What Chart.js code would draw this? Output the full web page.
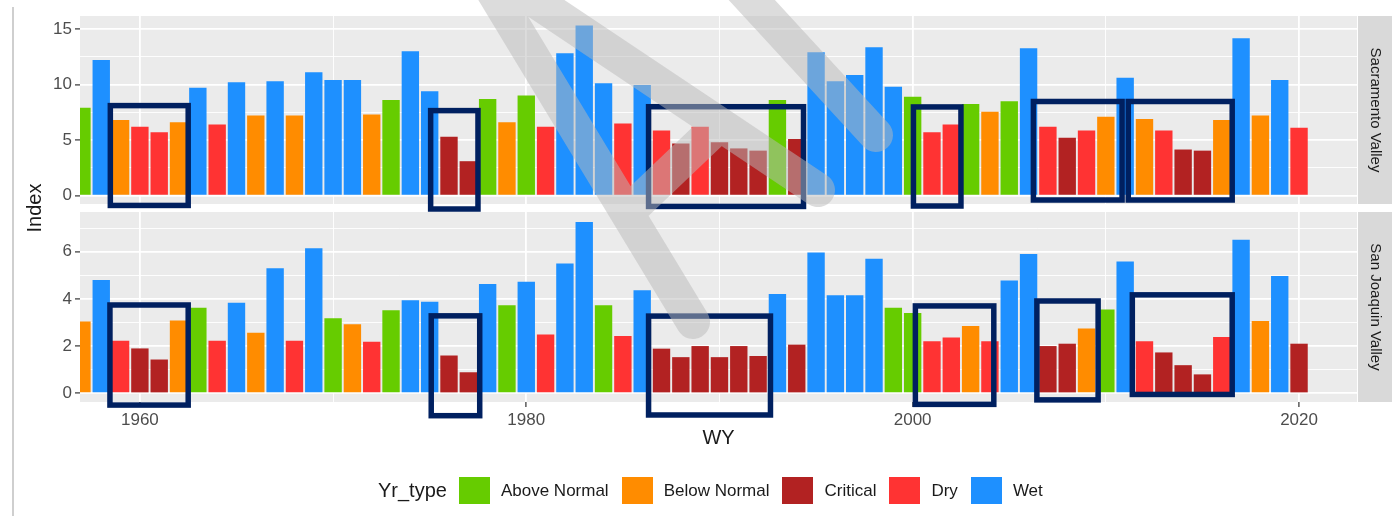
<!DOCTYPE html>
<html>
<head>
<meta charset="utf-8">
<title>Index by water year type</title>
<script src="https://cdn.jsdelivr.net/npm/chart.js@4.4.1/dist/chart.umd.min.js"></script>
<style>
	body { margin: 0; background: #ffffff; font-family: "Liberation Sans", Arial, sans-serif; }
	.contenedor { position: relative; width: 1395px; height: 516px; }
	.borde { position: absolute; left: 12px; top: 7px; bottom: 0; width: 2px; background: #cfcfcf; }
	.leyenda { position: absolute; left: 378px; top: 477px; height: 27px; display: flex; align-items: center; color: #1a1a1a; }
	.leyenda .titulo { font-size: 20px; margin-right: 12px; }
	.leyenda .caja { width: 31px; height: 27px; margin-right: 11px; }
	.leyenda .texto { font-size: 17px; margin-right: 13px; }
</style>
</head>
<body>
<div class="contenedor">
	<canvas id="grafico"></canvas>
	<div class="borde"></div>
	<div class="leyenda" id="leyenda"></div>
</div>
<script>
const years = [1957, 1958, 1959, 1960, 1961, 1962, 1963, 1964, 1965, 1966,
	1967, 1968, 1969, 1970, 1971, 1972, 1973, 1974, 1975, 1976,
	1977, 1978, 1979, 1980, 1981, 1982, 1983, 1984, 1985, 1986,
	1987, 1988, 1989, 1990, 1991, 1992, 1993, 1994, 1995, 1996,
	1997, 1998, 1999, 2000, 2001, 2002, 2003, 2004, 2005, 2006,
	2007, 2008, 2009, 2010, 2011, 2012, 2013, 2014, 2015, 2016,
	2017, 2018, 2019, 2020];

// Sacramento Valley index and year type
const sacValues = [7.9, 12.2, 6.8, 6.2, 5.7, 6.6, 9.7, 6.4, 10.2, 7.2,
	10.3, 7.2, 11.1, 10.4, 10.4, 7.3, 8.6, 13.0, 9.4, 5.3,
	3.1, 8.7, 6.6, 9.0, 6.2, 12.8, 15.3, 10.1, 6.5, 9.95,
	5.85, 4.7, 6.2, 4.8, 4.25, 4.05, 8.6, 5.1, 12.9, 10.3,
	10.85, 13.35, 9.8, 8.9, 5.7, 6.4, 8.25, 7.55, 8.5, 13.25,
	6.2, 5.2, 5.85, 7.1, 10.6, 6.9, 5.85, 4.15, 4.05, 6.8,
	14.15, 7.2, 10.4, 6.1];
const sacTypes = ["AN", "W", "BN", "D", "D", "BN", "W", "D", "W", "BN",
	"W", "BN", "W", "W", "W", "BN", "AN", "W", "W", "C",
	"C", "AN", "BN", "AN", "D", "W", "W", "W", "D", "W",
	"D", "C", "D", "C", "C", "C", "AN", "C", "W", "W",
	"W", "W", "W", "AN", "D", "D", "AN", "BN", "AN", "W",
	"D", "C", "D", "BN", "W", "BN", "D", "C", "C", "BN",
	"W", "BN", "W", "D"];

// San Joaquin Valley index and year type
const sjValues = [3.04, 4.8, 2.23, 1.9, 1.43, 3.08, 3.62, 2.23, 3.84, 2.56,
	5.3, 2.23, 6.14, 3.18, 2.92, 2.18, 3.52, 3.94, 3.88, 1.6,
	0.89, 4.63, 3.73, 4.73, 2.49, 5.5, 7.26, 3.73, 2.43, 4.36,
	1.89, 1.53, 2.0, 1.53, 2.0, 1.58, 4.21, 2.06, 5.96, 4.15,
	4.15, 5.7, 3.62, 3.4, 2.2, 2.36, 2.85, 2.2, 4.78, 5.9,
	2.0, 2.1, 2.74, 3.55, 5.58, 2.2, 1.73, 1.19, 0.8, 2.38,
	6.5, 3.06, 4.97, 2.1];
const sjTypes = ["BN", "W", "D", "C", "C", "BN", "AN", "D", "W", "BN",
	"W", "D", "W", "AN", "BN", "D", "AN", "W", "W", "C",
	"C", "W", "AN", "W", "D", "W", "W", "AN", "D", "W",
	"C", "C", "C", "C", "C", "C", "W", "C", "W", "W",
	"W", "W", "AN", "AN", "D", "D", "BN", "D", "W", "W",
	"C", "C", "BN", "AN", "W", "D", "C", "C", "C", "D",
	"W", "BN", "W", "C"];

const typeCodes = ["AN", "BN", "C", "D", "W"];
const typeNames = ["Above Normal", "Below Normal", "Critical", "Dry", "Wet"];
const typeColors = ["#66cc00", "#ff8c00", "#b22222", "#ff3333", "#1e90ff"];

const panelNames = ["Sacramento Valley", "San Joaquin Valley"];

// grid lines and labelled ticks
const yearGrid = [1960, 1970, 1980, 1990, 2000, 2010, 2020];
const yearLabels = [1960, 1980, 2000, 2020];
const sacGrid = [0, 2.5, 5, 7.5, 10, 12.5, 15];
const sacLabels = [0, 5, 10, 15];
const sjGrid = [0, 1, 2, 3, 4, 5, 6, 7];
const sjLabels = [0, 2, 4, 6];

// highlighted periods: [first year, last year, bottom, top] in index units
const sacBoxes = [[1958.47, 1962.5, -0.88, 8.1], [1975.05, 1977.5, -1.2, 7.65],
	[1986.33, 1994.35, -0.97, 8.0], [2000.04, 2002.5, -0.93, 7.98],
	[2006.25, 2010.84, -0.39, 8.47], [2011.16, 2016.54, -0.39, 8.47]];
const sjBoxes = [[1958.45, 1962.5, -0.5, 3.74], [1975.08, 1977.59, -0.95, 3.28],
	[1986.33, 1992.64, -0.92, 3.27], [2000.14, 2004.2, -0.47, 3.7],
	[2006.43, 2009.6, -0.28, 3.91], [2011.37, 2016.54, -0.05, 4.17]];

// grey mouse pointer that sits over the original screenshot (canvas pixels)
const pointerStrokes = [
	[[474, -40], [693, 322]],
	[[474, -40], [818, 190]],
	[[712, 132], [628, 212]],
	[[715, -40], [876, 135]]
];

const fuente = "'Liberation Sans', Arial, sans-serif";

function datasetsFor(values, types, axisId){
	return typeCodes.map((code, k) => {
		let puntos = [];
		years.forEach((yr, i) => {
			if(types[i] === code){
				puntos.push({x: yr, y: values[i]});
			}
		});
		return {
			label: typeNames[k],
			yAxisID: axisId,
			data: puntos,
			backgroundColor: typeColors[k],
			borderWidth: 0,
			grouped: false,
			barPercentage: 0.9,
			categoryPercentage: 1
		};
	});
}

function gridOptions(labels){
	return {
		offset: false,
		color: "#ffffff",
		lineWidth: c => (c.tick && labels.includes(c.tick.value)) ? 1.8 : 0.9,
		tickLength: 5,
		tickWidth: 1.2,
		tickColor: c => (c.tick && labels.includes(c.tick.value)) ? "#333333" : "rgba(0,0,0,0)"
	};
}

function panelScale(min, max, grid, labels, weight, stackWeight){
	return {
		type: "linear",
		position: "left",
		stack: "paneles",
		stackWeight: stackWeight,
		weight: weight,
		min: min,
		max: max,
		afterFit: s => { s.width = 80; },
		afterBuildTicks: s => { s.ticks = grid.map(v => ({value: v})); },
		border: {display: false},
		grid: gridOptions(labels),
		ticks: {
			padding: 3,
			color: "#4d4d4d",
			font: {family: fuente, size: 17},
			autoSkip: false,
			callback: v => labels.includes(v) ? String(v) : ""
		}
	};
}

// grey panel backgrounds
const fondoPaneles = {
	id: "fondoPaneles",
	beforeDraw(chart){
		const ctx = chart.ctx;
		const area = chart.chartArea;
		ctx.save();
		ctx.fillStyle = "#ebebeb";
		["ySac", "ySJ"].forEach(id => {
			const s = chart.scales[id];
			ctx.fillRect(area.left, s.top, area.right - area.left, s.bottom - s.top);
		});
		ctx.restore();
	}
};

// strips, highlight boxes and pointer
const extras = {
	id: "extras",
	afterDraw(chart){
		const ctx = chart.ctx;
		const area = chart.chartArea;
		const x = chart.scales.x;
		ctx.save();

		["ySac", "ySJ"].forEach((id, k) => {
			const s = chart.scales[id];
			ctx.fillStyle = "#d9d9d9";
			ctx.fillRect(area.right + 1, s.top, 34, s.bottom - s.top);
			ctx.save();
			ctx.translate(area.right + 18, (s.top + s.bottom) / 2);
			ctx.rotate(Math.PI / 2);
			ctx.fillStyle = "#1a1a1a";
			ctx.font = "15px " + fuente;
			ctx.textAlign = "center";
			ctx.textBaseline = "middle";
			ctx.fillText(panelNames[k], 0, 0);
			ctx.restore();
		});

		ctx.strokeStyle = "#002060";
		ctx.lineWidth = 5.5;
		[["ySac", sacBoxes], ["ySJ", sjBoxes]].forEach(([id, cajas]) => {
			const s = chart.scales[id];
			cajas.forEach(c => {
				const x0 = x.getPixelForValue(c[0]);
				const x1 = x.getPixelForValue(c[1]);
				const y0 = s.getPixelForValue(c[3]);
				const y1 = s.getPixelForValue(c[2]);
				ctx.strokeRect(x0, y0, x1 - x0, y1 - y0);
			});
		});

		ctx.globalAlpha = 0.5;
		ctx.strokeStyle = "#b9b9b9";
		ctx.lineWidth = 34;
		ctx.lineCap = "round";
		ctx.lineJoin = "round";
		ctx.beginPath();
		pointerStrokes.forEach(tramo => {
			ctx.moveTo(tramo[0][0], tramo[0][1]);
			ctx.lineTo(tramo[1][0], tramo[1][1]);
		});
		ctx.stroke();
		ctx.restore();
	}
};

new Chart("grafico", {
	type: "bar",
	data: {
		datasets: datasetsFor(sacValues, sacTypes, "ySac").concat(datasetsFor(sjValues, sjTypes, "ySJ"))
	},
	options: {
		responsive: true,
		maintainAspectRatio: false,
		animation: false,
		layout: {padding: {top: 16, right: 38, bottom: 66, left: 0}},
		plugins: {
			legend: {display: false},
			tooltip: {enabled: false}
		},
		scales: {
			x: {
				type: "linear",
				offset: false,
				min: 1956.9,
				max: 2023,
				afterFit: s => { s.height = 48; },
				afterBuildTicks: s => { s.ticks = yearGrid.map(v => ({value: v})); },
				border: {display: false},
				grid: gridOptions(yearLabels),
				ticks: {
					padding: 3,
					color: "#4d4d4d",
					font: {family: fuente, size: 17},
					maxRotation: 0,
					autoSkip: false,
					callback: v => yearLabels.includes(v) ? String(v) : ""
				},
				title: {display: true, text: "WY", color: "#1a1a1a", font: {family: fuente, size: 20}, padding: 0}
			},
			ySac: panelScale(-0.75, 16.16, sacGrid, sacLabels, 3, 188),
			yHueco: {
				type: "linear",
				position: "left",
				stack: "paneles",
				stackWeight: 8,
				weight: 2,
				afterFit: s => { s.width = 80; },
				border: {display: false},
				grid: {display: false},
				ticks: {display: false},
				title: {display: true, text: "Index", color: "#1a1a1a", font: {family: fuente, size: 20}, padding: {top: 23, bottom: 0}}
			},
			ySJ: panelScale(-0.37, 7.68, sjGrid, sjLabels, 1, 190)
		}
	},
	plugins: [fondoPaneles, extras]
});

// legend built from the same type lists
let leyenda = document.getElementById("leyenda");
let titulo = document.createElement("span");
titulo.className = "titulo";
titulo.textContent = "Yr_type";
leyenda.appendChild(titulo);
typeNames.forEach((nombre, k) => {
	let caja = document.createElement("span");
	caja.className = "caja";
	caja.style.background = typeColors[k];
	leyenda.appendChild(caja);
	let texto = document.createElement("span");
	texto.className = "texto";
	texto.textContent = nombre;
	leyenda.appendChild(texto);
});
</script>
</body>
</html>
